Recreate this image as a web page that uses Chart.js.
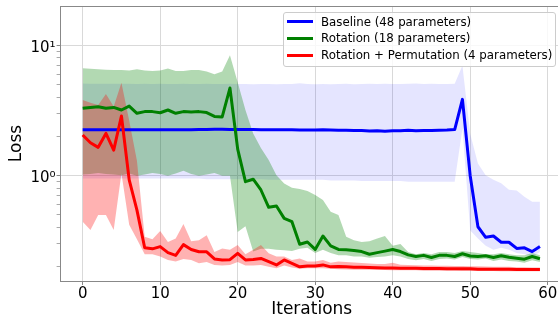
<!DOCTYPE html>
<html>
<head>
<meta charset="utf-8">
<script src="https://cdn.jsdelivr.net/npm/chart.js@4.4.1/dist/chart.umd.min.js"></script>
<style>
  html, body { margin: 0; padding: 0; background: #fff; overflow: hidden; }
  #wrap { position: relative; width: 558px; height: 320px; overflow: hidden; }
  #lossChart { position: absolute; left: 0; top: 0; }
  #legend { position: absolute; left: 283px; top: 12px; width: 271px; height: 53px;
            background: rgba(255,255,255,0.8); border: 1px solid #ccc; border-radius: 3px;
            font-family: 'DejaVu Sans'; font-size: 11.8px; color: #000; }
  .row { position: absolute; left: 0; height: 16px; line-height: 16px; white-space: nowrap; }
  .swatch { position: absolute; left: 2.7px; top: 6.5px; width: 26px; height: 3px; }
  .label { position: absolute; left: 37px; top: 0; }
</style>
</head>
<body>
<div id="wrap">
  <canvas id="lossChart" width="566" height="320"></canvas>
  <div id="legend"></div>
</div>
<script>
const iterations = [0,1,2,3,4,5,6,7,8,9,10,11,12,13,14,15,16,17,18,19,
  20,21,22,23,24,25,26,27,28,29,30,31,32,33,34,35,36,37,38,39,
  40,41,42,43,44,45,46,47,48,49,50,51,52,53,54,55,56,57,58,59];

const seriesNames = ['Baseline (48 parameters)', 'Rotation (18 parameters)', 'Rotation + Permutation (4 parameters)'];

const baselineMean = [2.25,2.25,2.25,2.25,2.25,2.25,2.25,2.25,2.25,2.25,
  2.25,2.25,2.25,2.25,2.25,2.26,2.26,2.27,2.27,2.26,
  2.26,2.26,2.26,2.25,2.25,2.25,2.25,2.25,2.24,2.24,
  2.24,2.25,2.24,2.23,2.23,2.22,2.22,2.20,2.21,2.19,
  2.21,2.21,2.23,2.21,2.22,2.22,2.23,2.24,2.26,3.85,
  1.00,0.406,0.337,0.345,0.309,0.309,0.277,0.280,0.262,0.286];
const baselineUpper = [5.10,5.08,5.08,5.07,5.08,5.06,5.07,5.05,5.06,5.05,
  5.06,5.05,5.04,5.06,5.05,5.04,5.06,5.05,5.04,5.06,
  5.05,5.04,5.03,5.05,5.04,5.03,5.05,5.04,5.12,5.05,
  5.02,5.05,5.03,5.04,5.06,5.03,5.04,5.07,5.05,5.08,
  5.05,5.04,5.08,5.10,5.05,5.06,5.05,5.04,5.08,7.00,
  2.10,1.24,1.01,0.93,0.875,0.78,0.77,0.69,0.63,0.63];
const baselineLower = [0.95,0.95,0.95,0.95,0.95,0.95,0.95,0.95,0.95,0.95,
  0.95,0.95,0.95,0.95,0.95,0.95,0.94,0.94,0.94,0.94,
  0.94,0.94,0.94,0.94,0.93,0.93,0.93,0.93,0.93,0.93,
  0.93,0.93,0.92,0.92,0.92,0.92,0.91,0.91,0.91,0.91,
  0.91,0.91,0.90,0.90,0.90,0.90,0.90,0.90,0.90,2.30,
  0.38,0.33,0.29,0.27,0.28,0.27,0.255,0.25,0.24,0.26];

const rotationMean = [3.29,3.34,3.38,3.29,3.34,3.19,3.42,3.01,3.10,3.10,
  3.04,3.19,3.01,3.10,3.08,3.10,3.05,2.85,2.82,4.70,
  1.60,0.90,0.94,0.777,0.572,0.585,0.471,0.444,0.298,0.31,
  0.272,0.345,0.29,0.272,0.27,0.267,0.262,0.25,0.257,0.264,
  0.272,0.262,0.247,0.24,0.245,0.236,0.245,0.245,0.24,0.252,
  0.242,0.24,0.243,0.236,0.243,0.237,0.233,0.229,0.24,0.231];
const rotationUpper = [6.66,6.60,6.55,6.50,6.45,6.45,6.40,6.55,6.40,6.35,
  6.40,6.65,6.35,6.35,6.45,6.45,6.30,6.00,6.30,8.40,
  5.20,3.19,2.11,1.63,1.32,1.01,0.87,0.81,0.79,0.763,
  0.71,0.65,0.53,0.50,0.34,0.32,0.31,0.315,0.33,0.345,
  0.29,0.30,0.26,0.25,0.255,0.25,0.26,0.26,0.255,0.265,
  0.26,0.255,0.25,0.25,0.255,0.25,0.245,0.245,0.255,0.245];
const rotationLower = [1.02,1.03,1.05,1.03,1.02,1.01,1.04,1.00,1.02,1.05,
  1.03,1.00,1.04,1.09,1.03,1.00,1.02,1.05,1.00,1.00,
  0.37,0.41,0.262,0.275,0.275,0.27,0.268,0.265,0.275,0.28,
  0.255,0.27,0.255,0.245,0.245,0.24,0.24,0.235,0.238,0.24,
  0.245,0.24,0.23,0.225,0.23,0.222,0.23,0.232,0.228,0.238,
  0.23,0.228,0.232,0.222,0.228,0.222,0.22,0.215,0.225,0.218];

const rotPermMean = [2.05,1.79,1.65,2.11,1.57,2.87,0.93,0.545,0.28,0.275,
  0.286,0.257,0.245,0.296,0.272,0.261,0.261,0.23,0.226,0.227,
  0.254,0.226,0.228,0.232,0.219,0.207,0.226,0.213,0.20,0.203,
  0.203,0.207,0.20,0.201,0.20,0.199,0.199,0.198,0.197,0.196,
  0.196,0.195,0.195,0.195,0.194,0.194,0.194,0.193,0.193,0.193,
  0.193,0.192,0.192,0.192,0.192,0.192,0.191,0.191,0.191,0.191];
const rotPermUpper = [3.80,3.63,3.48,4.24,3.39,5.16,2.65,1.30,0.34,0.325,
  0.377,0.31,0.33,0.426,0.315,0.32,0.35,0.26,0.277,0.27,
  0.294,0.25,0.27,0.294,0.254,0.24,0.24,0.226,0.232,0.22,
  0.22,0.226,0.215,0.22,0.218,0.216,0.214,0.212,0.21,0.21,
  0.215,0.208,0.207,0.206,0.205,0.205,0.204,0.204,0.203,0.203,
  0.202,0.202,0.201,0.20,0.20,0.20,0.199,0.199,0.198,0.198];
const rotPermLower = [0.444,0.384,0.50,0.50,0.384,1.04,0.42,0.325,0.25,0.25,
  0.24,0.226,0.22,0.23,0.226,0.213,0.218,0.207,0.205,0.207,
  0.218,0.205,0.205,0.207,0.20,0.195,0.205,0.198,0.193,0.195,
  0.195,0.195,0.193,0.192,0.191,0.19,0.19,0.19,0.189,0.189,
  0.188,0.188,0.188,0.188,0.187,0.187,0.187,0.187,0.187,0.186,
  0.186,0.186,0.186,0.186,0.185,0.185,0.185,0.185,0.185,0.185];

const xTicks = [0, 10, 20, 30, 40, 50, 60];
const yTicks = [0.2,0.3,0.4,0.5,0.6,0.7,0.8,0.9,1,2,3,4,5,6,7,8,9,10];
const yTickLabels = {1: '10\u2070', 10: '10\u00b9'};

const lineColors = ['#0000ff', '#008000', '#ff0000'];
const fillColors = ['rgba(0,0,255,0.1)', 'rgba(0,128,0,0.3)', 'rgba(255,0,0,0.3)'];
const font = 'DejaVu Sans';

function meanLine(data, color) {
  return { data: data, borderColor: color, borderWidth: 3, pointRadius: 0, fill: false, borderJoinStyle: 'round' };
}
function bandEdge(data, fillColor, fillTo) {
  return { data: data, borderColor: 'rgba(0,0,0,0)', borderWidth: 0, pointRadius: 0,
           backgroundColor: fillColor, fill: fillTo };
}

// draw order: red line on top, blue band at the bottom
const datasets = [
  meanLine(rotPermMean, lineColors[2]),
  meanLine(rotationMean, lineColors[1]),
  meanLine(baselineMean, lineColors[0]),
  bandEdge(rotPermUpper, fillColors[2], '+1'),
  bandEdge(rotPermLower, fillColors[2], false),
  bandEdge(rotationUpper, fillColors[1], '+1'),
  bandEdge(rotationLower, fillColors[1], false),
  bandEdge(baselineUpper, fillColors[0], '+1'),
  bandEdge(baselineLower, fillColors[0], false)
];

const topSpine = {
  id: 'topSpine',
  afterDraw(chart) {
    const { ctx, chartArea: a } = chart;
    ctx.save();
    ctx.strokeStyle = '#888';
    ctx.lineWidth = 1;
    ctx.beginPath();
    ctx.moveTo(a.left, Math.round(a.top) + 0.5);
    ctx.lineTo(a.right, Math.round(a.top) + 0.5);
    ctx.stroke();
    ctx.restore();
  }
};

new Chart(document.getElementById('lossChart'), {
  type: 'line',
  data: { labels: iterations, datasets: datasets },
  plugins: [topSpine],
  options: {
    responsive: false,
    animation: false,
    layout: { padding: { top: 6, right: 3.2, bottom: 0, left: 0 } },
    elements: { line: { tension: 0 } },
    plugins: {
      legend: { display: false },
      tooltip: { enabled: false },
      filler: { drawTime: 'beforeDatasetsDraw' }
    },
    scales: {
      x: {
        type: 'linear',
        min: -2.85,
        max: 61.95,
        afterBuildTicks: (s) => { s.ticks = xTicks.map(v => ({ value: v })); },
        afterFit: (s) => { s.height = 39; s.paddingLeft = 0; s.paddingRight = 0; },
        grid: { color: '#d9d9d9', tickColor: '#888', tickLength: 4 },
        border: { color: '#888' },
        ticks: { autoSkip: false, maxRotation: 0, padding: 0, color: '#000',
                 font: { family: font, size: 15 } },
        title: { display: true, text: 'Iterations', color: '#000', padding: 0,
                 font: { family: font, size: 17 } }
      },
      y: {
        type: 'logarithmic',
        min: 0.1558,
        max: 20.01,
        afterBuildTicks: (s) => { s.ticks = yTicks.map(v => ({ value: v, major: v in yTickLabels })); },
        afterFit: (s) => { s.width = 60.6; s.paddingTop = 0; s.paddingBottom = 0; },
        grid: {
          color: (c) => (c.tick && yTickLabels[c.tick.value]) ? '#d9d9d9' : 'rgba(0,0,0,0)',
          tickColor: (c) => (c.tick && yTickLabels[c.tick.value]) ? '#888' : '#aaa',
          tickLength: 4
        },
        border: { color: '#888' },
        ticks: { autoSkip: false, padding: 1, labelOffset: 2.5, color: '#000',
                 font: { family: font, size: 15 },
                 callback: (v) => yTickLabels[v] || '' },
        title: { display: true, text: 'Loss', color: '#000', padding: { top: 6, bottom: 0 },
                 font: { family: font, size: 17 } }
      }
    }
  }
});

// legend box, drawn over the plot like the original
const legendBox = document.getElementById('legend');
seriesNames.forEach((name, i) => {
  const row = document.createElement('div');
  row.className = 'row';
  row.style.top = (0.7 + i * 16.65) + 'px';
  const sw = document.createElement('span');
  sw.className = 'swatch';
  sw.style.background = lineColors[i];
  const label = document.createElement('span');
  label.className = 'label';
  label.textContent = name;
  row.appendChild(sw);
  row.appendChild(label);
  legendBox.appendChild(row);
});
</script>
</body>
</html>
